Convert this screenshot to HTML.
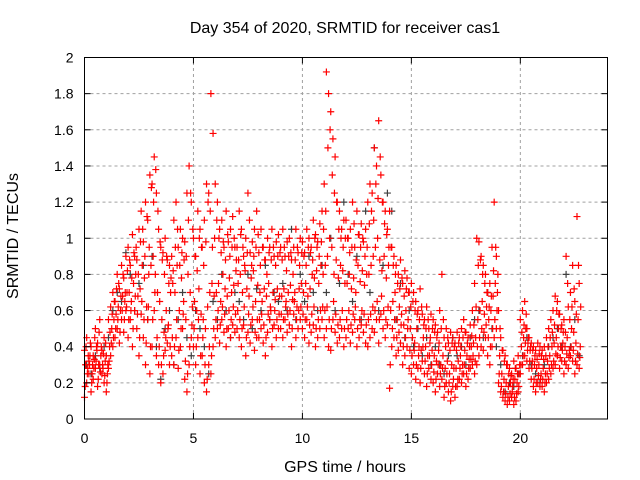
<!DOCTYPE html>
<html><head><meta charset="utf-8"><style>
html,body{margin:0;padding:0;background:#fff;}
svg{display:block;font-family:"Liberation Sans",sans-serif;}
</style></head><body>
<svg id="chart" width="640" height="480" viewBox="0 0 640 480">
<g id="grid"></g>
<g id="pts"></g>
<rect x="84.5" y="57.5" width="523" height="361.5" fill="none" stroke="#000" stroke-width="1"/>
<g id="ticks"></g>
<text x="345" y="33" font-size="16" text-anchor="middle">Day 354 of 2020, SRMTID for receiver cas1</text>
<text x="345" y="472" font-size="16" text-anchor="middle">GPS time / hours</text>
<text x="18" y="236" font-size="16" text-anchor="middle" transform="rotate(-90 18 236)">SRMTID / TECUs</text>
</svg>
<script>
const xTicks=[0,5,10,15,20];
const yTicks=[0,0.2,0.4,0.6,0.8,1,1.2,1.4,1.6,1.8,2];
const yTickLabels=["0","0.2","0.4","0.6","0.8","1","1.2","1.4","1.6","1.8","2"];
const seriesA=[.38,.45,.32,.40,.35,.50,.42,.55,.38,.45, .35,.55,.62,.70,.65,.80,.72,.85,.78,.90, .95,.85,1.02,.90,.88,1.05,1.15,.98,1.20,1.10, 1.35,1.30,1.45,1.25,1.05,.95,.92,1.00,.88,.85, .90,1.10,1.20,.95,1.05,1.00,.98,1.25,1.40,1.20, 1.00,.90,1.15,1.05,.95,1.10,1.30,1.25,1.80,1.58, 1.30,1.20,1.05,1.10,.95,1.15,.98,1.05,1.12,.95, .95,1.15,1.05,.90,1.00,1.25,.92,.98,1.05,1.15, .92,1.05,.95,.88,1.00,.95,1.05,.90,.98,1.02, .95,1.05,.90,.98,1.00,.88,.95,1.05,.92,1.00, .98,.92,1.05,1.00,.95,1.10,1.02,.98,1.08,1.15, 1.30,1.92,1.80,1.70,1.55,1.45,1.20,1.15,1.05,1.10, 1.10,1.00,1.05,1.20,.95,1.15,1.02,1.08,.98,1.05, 1.20,1.30,1.25,1.50,1.40,1.65,1.35,1.20,1.15,1.05, 1.15,.95,.90,.85,.80,.88,.75,.82,.78,.70, .75,.70,.65,.60,.72,.58,.55,.62,.50,.58, .55,.52,.48,.60,.80,.45,.50,.42,.48,.45, .42,.48,.45,.50,.55,.48,.45,.52,.60,.75, 1.00,.98,.90,.85,.80,.70,.75,.95,1.20,.90, .60,.45,.38,.35,.30,.28,.25,.32,.28,.35, .55,.60,.65,.50,.45,.42,.40,.38,.42,.40, .38,.40,.45,.50,.55,.60,.68,.65,.58,.52, .55,.90,.62,.70,.85,.65,1.12,.75];
const seriesB=[.12,.20,.25,.15,.22,.28,.18,.30,.25,.20, .15,.28,.35,.40,.45,.50,.42,.55,.48,.60, .45,.55,.40,.60,.50,.35,.58,.45,.30,.55, .25,.40,.60,.35,.30,.20,.25,.38,.42,.30, .35,.30,.45,.28,.40,.50,.22,.15,.30,.45, .40,.30,.45,.25,.35,.20,.15,.30,.25,.40, .45,.50,.42,.55,.48,.40,.50,.45,.52,.48, .50,.45,.40,.52,.35,.48,.42,.55,.38,.45, .45,.50,.42,.35,.48,.55,.40,.52,.45,.50, .50,.45,.55,.48,.52,.40,.58,.45,.50,.55, .50,.45,.55,.42,.48,.52,.40,.45,.50,.55, .45,.50,.40,.38,.55,.48,.42,.45,.50,.40, .45,.50,.42,.48,.55,.40,.45,.52,.48,.42, .40,.45,.50,.48,.55,.42,.58,.50,.45,.52, .17,.40,.45,.35,.38,.42,.30,.35,.40,.28, .25,.30,.22,.28,.20,.32,.25,.18,.28,.22, .20,.15,.25,.18,.22,.12,.20,.15,.10,.18, .12,.18,.22,.20,.25,.18,.22,.28,.30,.25, .30,.35,.40,.38,.45,.35,.30,.40,.45,.50, .20,.15,.12,.10,.08,.10,.12,.08,.10,.15, .25,.30,.35,.32,.28,.22,.18,.15,.20,.18, .18,.15,.20,.22,.25,.28,.30,.35,.28,.32, .25,.30,.28,.35,.32,.25,.30,.28];
const seriesC=[.30,.28,.35,.25,.33,.40,.30,.35,.28,.32, .25,.40,.50,.55,.58,.62,.60,.68,.65,.70, .70,.65,.75,.80,.68,.72,.85,.78,.62,.80, .85,.90,.80,.70,.65,.55,.48,.60,.52,.70, .75,.70,.85,.60,.78,.65,.55,.80,.70,.62, .65,.60,.72,.58,.55,.50,.62,.70,.75,.68, .70,.75,.65,.80,.72,.68,.78,.70,.74,.82, .75,.80,.70,.85,.72,.68,.78,.82,.65,.74, .70,.65,.72,.68,.75,.60,.70,.66,.72,.68, .68,.72,.65,.70,.74,.66,.70,.62,.72,.75, .70,.75,.68,.72,.80,.78,.82,.75,.85,.80, .85,.90,1.00,.95,.80,.88,.78,.85,.82,.75, .75,.80,.72,.78,.70,.85,.76,.82,.74,.80, .80,.85,.90,.95,1.00,.88,.82,.90,.78,.85, .60,.65,.70,.55,.62,.58,.52,.60,.55,.50, .45,.42,.50,.40,.38,.45,.40,.35,.42,.38, .35,.32,.38,.30,.35,.28,.32,.25,.30,.28, .28,.32,.35,.30,.38,.35,.33,.40,.42,.45, .55,.60,.65,.58,.62,.55,.60,.68,.75,.70, .35,.25,.22,.20,.18,.20,.18,.22,.20,.25, .40,.45,.50,.42,.38,.32,.30,.28,.30,.25, .28,.25,.32,.35,.40,.42,.45,.50,.40,.42, .40,.45,.38,.50,.48,.42,.55,.40];
const seriesD=[.40,.35,.42,.30,.45,.38,.48,.40,.36,.42, .30,.48,.58,.65,.72,.75,.68,.80,.70,.82, .88,.78,.92,.95,.80,.98,1.05,.90,1.12,.95, 1.28,1.20,1.38,1.15,.98,.88,.80,.90,.75,.78, .82,.95,1.05,.85,.92,.88,.90,1.10,1.25,1.05, .90,.82,1.00,.95,.85,.98,1.20,1.15,.95,1.00, 1.10,1.00,.92,.98,.88,1.02,.90,.95,1.00,.88, .88,1.02,.95,.82,.92,1.10,.85,.90,.95,1.02, .85,.95,.88,.80,.92,.88,.95,.85,.90,.92, .88,.95,.82,.90,.92,.80,.88,.95,.85,.92, .90,.85,.95,.92,.88,1.00,.95,.90,.98,1.05, 1.15,1.50,1.60,1.35,1.25,1.20,1.05,1.00,.95,1.00, 1.00,.92,.95,1.08,.88,1.02,.95,1.00,.90,.95, 1.08,1.15,1.10,1.30,1.22,1.45,1.20,1.08,1.02,.95, .95,.85,.80,.75,.72,.78,.68,.72,.70,.62, .65,.60,.58,.55,.62,.52,.50,.55,.45,.50, .48,.45,.42,.50,.55,.40,.45,.38,.42,.40, .38,.42,.40,.45,.48,.42,.40,.46,.52,.62, .85,.88,.80,.75,.70,.62,.68,.82,.95,.80, .50,.38,.32,.30,.25,.24,.22,.28,.25,.30, .48,.52,.58,.45,.40,.38,.35,.33,.36,.35, .33,.35,.40,.45,.48,.52,.60,.58,.50,.48, .48,.75,.55,.62,.72,.58,.85,.62];
const seriesE=[.18,.25,.30,.20,.28,.32,.22,.26,.30,.24, .20,.32,.42,.45,.50,.55,.48,.60,.55,.62, .55,.60,.50,.68,.58,.45,.65,.55,.42,.62, .40,.55,.70,.45,.40,.30,.35,.45,.50,.40, .45,.40,.55,.38,.50,.58,.32,.25,.40,.52, .50,.40,.55,.35,.45,.30,.22,.40,.35,.50, .55,.60,.52,.62,.58,.50,.60,.55,.62,.58, .60,.55,.50,.62,.45,.58,.52,.62,.48,.55, .55,.58,.52,.45,.58,.62,.50,.60,.55,.58, .58,.55,.62,.58,.60,.50,.65,.55,.60,.62, .58,.55,.62,.52,.58,.62,.50,.55,.60,.62, .60,.62,.55,.50,.65,.58,.52,.55,.60,.50, .55,.60,.52,.58,.62,.50,.55,.60,.58,.52, .55,.58,.62,.60,.65,.55,.68,.60,.55,.62, .30,.50,.55,.45,.48,.52,.40,.45,.50,.38, .35,.38,.30,.35,.28,.40,.32,.25,.35,.30, .26,.22,.30,.25,.28,.18,.25,.20,.15,.22, .18,.22,.28,.25,.30,.25,.28,.33,.35,.32, .40,.45,.50,.48,.52,.45,.40,.50,.55,.60, .25,.18,.15,.14,.12,.14,.15,.12,.14,.18, .30,.35,.42,.38,.32,.28,.22,.20,.24,.22, .22,.20,.25,.28,.30,.32,.36,.40,.34,.38, .32,.36,.34,.40,.38,.32,.36,.34];
const seriesGray=[.30,.25,.35,.28,.40, .45,.60,.70,.65,.92, .80,.60,.75,.85,.55, .90,.40,.22,.50,.60, .30,.55,.70,.45,.35, .60,.50,.40,.25,.65, .55,.80,.60,.45,.70, .65,.55,.80,.50,.72, .60,.85,.55,.70,.65, .75,.60,1.05,.55,.80, .65,.90,.70,.60,.85, .70,1.00,.60,.75,1.20, .80,.65,.90,.55,1.15, .70,1.50,.60,.85,1.25, 1.15,.55,.75,.45,.60, .40,.50,.35,.45,.30, .40,.30,.25,.35,.45, .35,.40,.30,.45,.55, .60,.45,.70,.50,.40, .30,.15,.20,.18,.25, .35,.45,.30,.25,.20, .30,.40,.45,.50,.40, .80,.40,.55,.35];
const X0=84.5,X1=607.5,Y0=419,Y1=57.5,XMAX=24,YMAX=2;
const xs=v=>X0+(X1-X0)*v/XMAX;
const ys=v=>Y0-(Y0-Y1)*v/YMAX;
const NS="http://www.w3.org/2000/svg";
const grid=document.getElementById('grid'),ticks=document.getElementById('ticks'),pts=document.getElementById('pts');
function mk(tag,attrs,parent){const e=document.createElementNS(NS,tag);for(const k in attrs)e.setAttribute(k,attrs[k]);parent.appendChild(e);return e;}
yTicks.forEach((v,i)=>{
 const y=ys(v);
 if(v>0&&v<YMAX){const g=mk('line',{x1:X0,x2:X1,y1:y,y2:y,stroke:'#a0a0a0','stroke-dasharray':'3,3'},grid);
 
 }
 mk('line',{x1:X0,x2:X0+6,y1:y,y2:y,stroke:'#000'},ticks);
 mk('line',{x1:X1-6,x2:X1,y1:y,y2:y,stroke:'#000'},ticks);
 const t=mk('text',{x:X0-11,y:y+5,'font-size':'14','text-anchor':'end'},ticks);
 t.textContent=yTickLabels[i];
 
 
});
xTicks.forEach(v=>{
 const x=xs(v);
 if(v>0){const g=mk('line',{x1:x,x2:x,y1:Y0,y2:Y1,stroke:'#a0a0a0','stroke-dasharray':'3,3'},grid);
 
 }
 mk('line',{x1:x,x2:x,y1:Y0,y2:Y0-6,stroke:'#000'},ticks);
 mk('line',{x1:x,x2:x,y1:Y1,y2:Y1+6,stroke:'#000'},ticks);
 const t=mk('text',{x:x,y:Y0+24,'font-size':'14','text-anchor':'middle'},ticks);
 t.textContent=String(v);
 
 
});
function plus(t,v,color,name){
 const x=xs(t),y=ys(v);
 const p=mk('path',{d:`M${x-3.5} ${y}H${x+3.5}M${x} ${y-3.5}V${y+3.5}`,stroke:color,'stroke-width':'1.2',fill:'none'},pts);
 
 
}
seriesGray.forEach((v,i)=>plus(0.1+i*0.2,v,'#404040','gray-point'));
seriesB.forEach((v,i)=>plus(i*0.1,v,'#ff0000','red-point'));
seriesE.forEach((v,i)=>plus(0.03+i*0.1,v,'#ff0000','red-point'));
seriesC.forEach((v,i)=>plus(0.05+i*0.1,v,'#ff0000','red-point'));
seriesD.forEach((v,i)=>plus(0.07+i*0.1,v,'#ff0000','red-point'));
seriesA.forEach((v,i)=>plus(i*0.1,v,'#ff0000','red-point'));
</script>
</body></html>
